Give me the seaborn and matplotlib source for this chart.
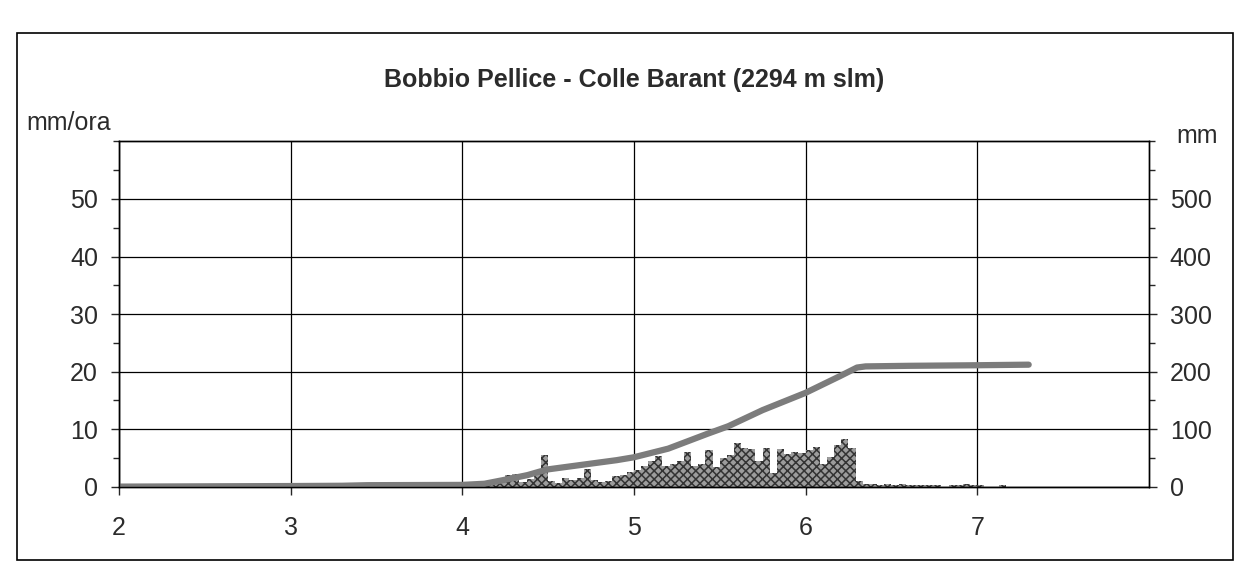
import numpy as np
import pandas as pd
import matplotlib
matplotlib.use("Agg")
import matplotlib.pyplot as plt
from matplotlib.patches import Rectangle
from matplotlib.ticker import MultipleLocator
import seaborn as sns

# -----------------------
# DATI
# -----------------------
titolo = "Bobbio Pellice - Colle Barant (2294 m slm)"

# pioggia oraria (mm/ora), un valore per ogni ora del giorno
giorni = [3, 4, 5, 6, 7]
pioggia_g3 = [0, 0, 0, 0, 0, 0, 0, 0.4, 0.5, 0.5, 0.3, 0,
              0, 0, 0, 0, 0, 0, 0, 0, 0, 0, 0, 0]
pioggia_g4 = [0, 0, 0, 0.3, 0.5, 0.8, 2.0, 2.2, 0.8, 1.3, 2.5, 5.5,
              1.0, 0.6, 1.5, 1.2, 1.5, 3.0, 1.2, 0.8, 1.0, 1.8, 2.0, 2.5]
pioggia_g5 = [2.9, 3.5, 4.5, 5.3, 3.5, 3.9, 4.4, 6.0, 3.6, 4.0, 6.3, 3.4,
              4.9, 5.5, 7.6, 6.8, 6.5, 4.5, 6.8, 2.4, 6.5, 5.6, 6.0, 5.8]
pioggia_g6 = [6.3, 6.9, 4.0, 5.2, 7.2, 8.3, 6.8, 1.0, 0.4, 0.5, 0.3, 0.4,
              0.3, 0.5, 0.2, 0.3, 0.2, 0.3, 0.2, 0, 0.3, 0.3, 0.4, 0.3]
pioggia_g7 = [0.3, 0, 0, 0.3, 0, 0]

# pioggia cumulata (mm)
cum_x = [2.0, 2.5, 3.0, 3.3, 3.45, 4.0, 4.13, 4.25, 4.38, 4.45, 4.5, 4.7,
         4.9, 5.0, 5.2, 5.43, 5.55, 5.75, 6.0, 6.2, 6.3, 6.35, 6.6, 7.0, 7.3]
cum_mm = [0, 0.5, 1, 1.5, 2.5, 3, 5, 12, 20, 26, 30, 38,
          46, 51, 66, 92, 105, 133, 163, 192, 207, 209, 210, 211, 212]

x_ticks = [2, 3, 4, 5, 6, 7]
y_ticks_sx = [0, 10, 20, 30, 40, 50]
y_ticks_dx = [0, 100, 200, 300, 400, 500]

# tabella oraria
righe = []
for g, valori in zip(giorni, [pioggia_g3, pioggia_g4, pioggia_g5, pioggia_g6, pioggia_g7]):
    for h, v in enumerate(valori):
        righe.append({"ora": g + h / 24 + 1 / 48, "mm": v})
df = pd.DataFrame(righe)

# -----------------------
# STILE
# -----------------------
sns.set_style("white")
plt.rcParams["font.family"] = ["Liberation Sans", "DejaVu Sans"]
plt.rcParams["hatch.color"] = "#333333"
plt.rcParams["hatch.linewidth"] = 1.1
testo = "#2b2b2b"

fig = plt.figure(figsize=(12.38, 5.87), dpi=100)
fig.subplots_adjust(left=0.096, right=0.928, bottom=0.171, top=0.759)
ax = fig.add_subplot(111)

# barre orarie
sns.histplot(data=df, x="ora", weights="mm", binwidth=1 / 24, binrange=(3, 7.25),
             color="#9c9c9c", edgecolor="#333333", linewidth=0, alpha=1, ax=ax)
for p in ax.patches:
    p.set_hatch("xxxx")
    p.set_linewidth(0)

ax.set_xlim(2, 8)
ax.set_ylim(0, 60)
ax.set_xticks(x_ticks)
ax.set_yticks(y_ticks_sx)
ax.yaxis.set_minor_locator(MultipleLocator(5))
ax.set_xlabel("")
ax.set_ylabel("")
ax.grid(True, which="major", color="black", linewidth=0.9)
ax.set_axisbelow(True)
ax.tick_params(axis="y", which="major", direction="out", length=6, width=1,
               labelsize=18, labelcolor=testo, pad=9, left=True)
ax.tick_params(axis="y", which="minor", direction="out", length=4, width=1, left=True)
ax.tick_params(axis="x", which="major", direction="out", length=6, width=1,
               labelsize=18, labelcolor=testo, pad=15, bottom=True)
for s in ax.spines.values():
    s.set_color("black")
    s.set_linewidth(1)

# linea cumulata
ax2 = ax.twinx()
sns.lineplot(x=cum_x, y=cum_mm, color="#7c7c7c", linewidth=4.5, ax=ax2)
ax2.set_ylim(0, 600)
ax2.set_yticks(y_ticks_dx)
ax2.yaxis.set_minor_locator(MultipleLocator(50))
ax2.tick_params(axis="y", which="major", direction="out", length=6, width=1,
                labelsize=18, labelcolor=testo, pad=9, right=True)
ax2.tick_params(axis="y", which="minor", direction="out", length=4, width=1, right=True)
ax2.set_ylabel("")
for s in ax2.spines.values():
    s.set_color("black")
    s.set_linewidth(1)

# testi
fig.text(0.512, 0.864, titolo, ha="center", va="center", fontsize=18,
         fontweight="bold", color=testo)
fig.text(0.021, 0.791, "mm/ora", ha="left", va="center", fontsize=18, color=testo)
fig.text(0.967, 0.769, "mm", ha="center", va="center", fontsize=18, color=testo)

# cornice del grafico
fig.patches.append(Rectangle((0.014, 0.046), 0.982, 0.898, transform=fig.transFigure,
                             fill=False, edgecolor="black", linewidth=1.2))

plt.savefig("out.png", dpi=100)
